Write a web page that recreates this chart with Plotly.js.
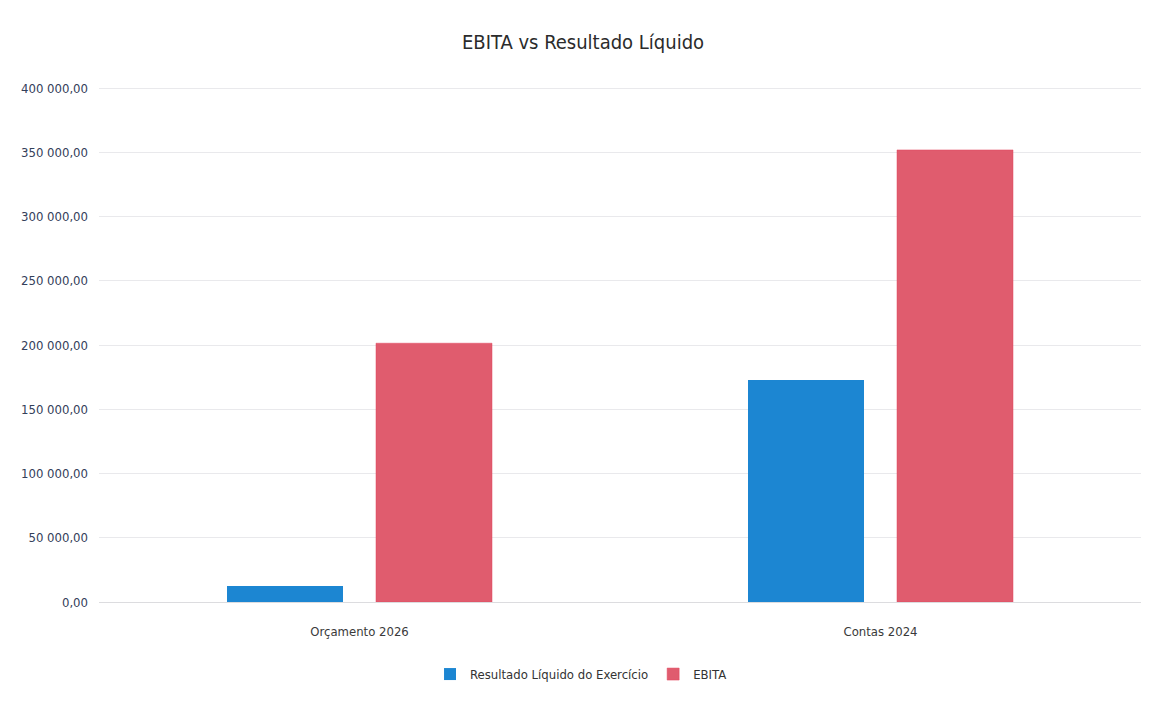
<!DOCTYPE html>
<html>
<head>
<meta charset="utf-8">
<script src="https://cdn.plot.ly/plotly-3.0.1.min.js"></script>
<style>html,body{margin:0;padding:0;background:#fff;}#chart{width:1150px;height:705px;}</style>
</head>
<body>
<div id="chart"></div>
<script>
const categories = ["Orçamento 2026", "Contas 2024"];
const seriesNames = ["Resultado Líquido do Exercício", "EBITA"];
const resultadoLiquido = [12400, 172800];
const ebita = [201500, 352000];
const tickValues = [0, 50000, 100000, 150000, 200000, 250000, 300000, 350000, 400000];

const font = "DejaVu Sans Condensed, Liberation Sans Narrow, Open Sans, sans-serif";

const traces = [
  {type: "bar", name: seriesNames[0], x: categories, y: resultadoLiquido,
   marker: {color: "#1c86d2"}, hoverinfo: "y"},
  {type: "bar", name: seriesNames[1], x: categories, y: ebita,
   marker: {color: "#e05c6e", line: {color: "#e3475f", width: 0.5}}, hoverinfo: "y"}
];

const layout = {
  width: 1150, height: 705,
  paper_bgcolor: "#ffffff", plot_bgcolor: "#ffffff",
  separators: ", ",
  margin: {l: 99, r: 9, t: 87, b: 103},
  barmode: "group", bargap: 0.428, bargroupgap: 0.2215,
  title: {text: "EBITA vs Resultado Líquido", x: 0.507, xanchor: "center", y: 0.94, yanchor: "middle",
          font: {family: font, size: 20, color: "#2b2b2b"}},
  xaxis: {type: "category", showgrid: false, zeroline: false, showline: false, ticks: "",
          ticklabelstandoff: 20,
          tickfont: {family: font, size: 13, color: "#3a3a3a"}},
  yaxis: {range: [0, 401000], tickvals: tickValues, tickformat: ",.2f",
          showgrid: true, gridcolor: "#e9e9ec", gridwidth: 1, zeroline: true, zerolinecolor: "#dcdcdf",
          showline: false, ticks: "", ticklabelstandoff: 10,
          tickfont: {family: font, size: 13, color: "#34405a"}},
  showlegend: true,
  legend: {orientation: "h", x: 0.4626, xanchor: "center", y: -0.14, yanchor: "middle",
           font: {family: font, size: 13, color: "#333333"}, itemwidth: 30, traceorder: "normal"}
};

Plotly.newPlot("chart", traces, layout, {displayModeBar: false, staticPlot: true});
</script>
</body>
</html>
